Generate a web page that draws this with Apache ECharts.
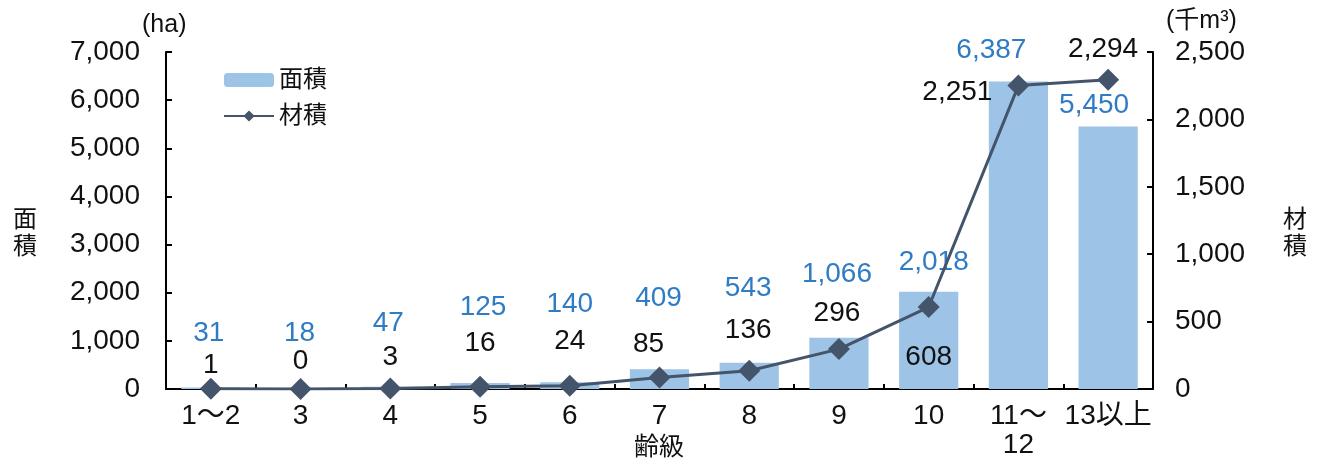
<!DOCTYPE html>
<html>
<head>
<meta charset="utf-8">
<script src="https://cdn.jsdelivr.net/npm/echarts@6/dist/echarts.min.js"></script>
<style>
  html, body { margin: 0; padding: 0; background: #fff; }
  #chart { width: 1325px; height: 464px; }
</style>
</head>
<body>
<div id="chart"></div>
<script>
const categories = ['1～2', '3', '4', '5', '6', '7', '8', '9', '10', '11～\n12', '13以上']
const areaValues = [31, 18, 47, 125, 140, 409, 543, 1066, 2018, 6387, 5450]
const volumeValues = [1, 0, 3, 16, 24, 85, 136, 296, 608, 2251, 2294]
const areaTicks = [0, 1000, 2000, 3000, 4000, 5000, 6000, 7000]
const volumeTicks = [0, 500, 1000, 1500, 2000, 2500]

// label nudges (px), like the hand-moved labels of the original
const barLabelOffsets = [[-2, -54], [-1, -55], [-2, -63], [3, -76], [0, -78], [-1, -71], [-1, -75], [-2, -63], [5, -30], [-27, -31], [-14, -21]]
const lineLabelOffsets = [[0, -24], [0, -28], [0, -31], [0, -44], [0, -44], [-11, -33], [-1, -40], [-2, -36], [0, 50], [-61, 7], [-5, -30]]

const FONT = '"Liberation Sans", Arial, "Noto Sans CJK JP", sans-serif'
const fmt = v => Number(v).toLocaleString('en-US')

const axisCommon = {
  axisLine: { show: true, lineStyle: { color: '#000', width: 2 } },
  axisTick: { show: true, inside: true, length: 6, lineStyle: { color: '#000', width: 2 } },
  splitLine: { show: false },
  axisLabel: { color: '#111', fontSize: 28, fontFamily: FONT, formatter: fmt }
}

const chart = echarts.init(document.getElementById('chart'))

chart.setOption({
  animation: false,
  textStyle: { fontFamily: FONT },
  grid: { left: 166, right: 172, top: 52, bottom: 75, containLabel: false, outerBoundsMode: 'none' },
  legend: {
    orient: 'vertical',
    left: 218,
    top: 62,
    itemWidth: 50,
    itemHeight: 14,
    itemGap: 10,
    textStyle: { fontSize: 24, color: '#111', lineHeight: 26 },
    data: ['面積', '材積']
  },
  xAxis: {
    type: 'category',
    data: categories,
    axisLine: { lineStyle: { color: '#000', width: 2 } },
    axisTick: { show: true, inside: true, length: 5, lineStyle: { color: '#000', width: 2 } },
    axisLabel: { color: '#111', fontSize: 28, lineHeight: 29, margin: 13, interval: 0 }
  },
  yAxis: [
    Object.assign({}, axisCommon, {
      type: 'value',
      position: 'left',
      min: areaTicks[0],
      max: areaTicks[areaTicks.length - 1],
      interval: areaTicks[1] - areaTicks[0],
      axisLabel: Object.assign({}, axisCommon.axisLabel, { margin: 26 })
    }),
    Object.assign({}, axisCommon, {
      type: 'value',
      position: 'right',
      min: volumeTicks[0],
      max: volumeTicks[volumeTicks.length - 1],
      interval: volumeTicks[1] - volumeTicks[0],
      axisLabel: Object.assign({}, axisCommon.axisLabel, { margin: 22 })
    })
  ],
  graphic: [
    { type: 'text', left: 142, top: 13, style: { text: '(ha)', fontSize: 25, fill: '#111', fontFamily: FONT } },
    { type: 'text', left: 1166, top: 9, style: { text: '(千m³)', fontSize: 25, fill: '#111', fontFamily: FONT } },
    { type: 'text', left: 13, top: 207, style: { text: '面\n積', fontSize: 24, lineHeight: 27, fill: '#111', fontFamily: FONT } },
    { type: 'text', left: 1283, top: 207, style: { text: '材\n積', fontSize: 24, lineHeight: 27, fill: '#111', fontFamily: FONT } },
    { type: 'text', left: 634, top: 436, style: { text: '齢級', fontSize: 25, fill: '#111', fontFamily: FONT } }
  ],
  series: [
    {
      name: '面積',
      type: 'bar',
      yAxisIndex: 0,
      barCategoryGap: '34%',
      itemStyle: { color: '#9DC3E6' },
      data: areaValues.map((v, i) => ({
        value: v,
        label: {
          show: true,
          position: 'top',
          distance: 0,
          verticalAlign: 'middle',
          offset: barLabelOffsets[i],
          color: '#2F7BC4',
          fontSize: 28,
          formatter: p => fmt(p.value)
        }
      }))
    },
    {
      name: '材積',
      type: 'line',
      yAxisIndex: 1,
      symbol: 'diamond',
      symbolSize: 22,
      z: 3,
      lineStyle: { color: '#44546A', width: 3 },
      itemStyle: { color: '#44546A' },
      data: volumeValues.map((v, i) => ({
        value: v,
        label: {
          show: true,
          position: 'inside',
          align: 'center',
          verticalAlign: 'middle',
          offset: lineLabelOffsets[i],
          color: '#111',
          fontSize: 28,
          formatter: p => fmt(p.value)
        }
      }))
    }
  ]
})
</script>
</body>
</html>
